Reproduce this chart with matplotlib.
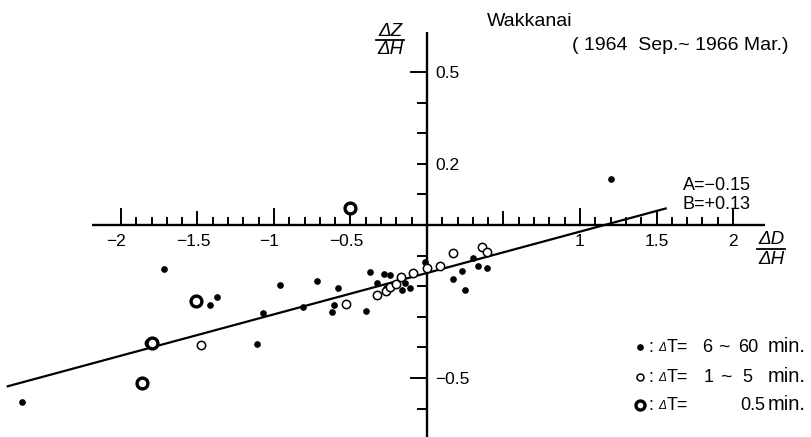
import matplotlib
matplotlib.use('Agg')
import matplotlib.pyplot as plt

plt.rcParams['font.family'] = ['Liberation Sans', 'DejaVu Sans']

# ---- data (x = dD/dH, y = dZ/dH) ----
filled_x = [-1.72, -1.37, -1.42, -0.96, -0.72, -1.07, -0.81, -1.11, -0.58, -0.61,
            -0.62, -0.40, -0.375, -2.65, -0.325, -0.28, -0.24, -0.165, -0.11, -0.145,
            -0.01, 0.17, 0.23, 0.25, 0.30, 0.335, 0.39, 1.20, -0.27]
filled_y = [-0.143, -0.236, -0.262, -0.195, -0.184, -0.288, -0.267, -0.389, -0.207, -0.262,
            -0.285, -0.281, -0.154, -0.579, -0.191, -0.161, -0.165, -0.212, -0.205, -0.188,
            -0.121, -0.177, -0.150, -0.212, -0.109, -0.133, -0.139, 0.149, -0.205]
open_x = [-1.48, -0.53, -0.33, -0.27, -0.24, -0.20, -0.17, -0.09, 0.00, 0.085,
          0.17, 0.36, 0.39, -1.82]
open_y = [-0.393, -0.259, -0.229, -0.216, -0.202, -0.194, -0.171, -0.158, -0.142, -0.133,
          -0.092, -0.071, -0.087, -0.386]
bold_x = [-1.51, -1.80, -1.86, -0.50]
bold_y = [-0.247, -0.385, -0.517, 0.055]
line_x = [-2.74, 1.56]
line_y = [-0.527, 0.054]

x_tick_labels = ['−2', '−1.5', '−1', '−0.5', '1', '1.5', '2']
x_tick_values = [-2, -1.5, -1, -0.5, 1, 1.5, 2]
y_tick_labels = ['0.5', '0.2', '−0.5']
y_tick_values = [0.5, 0.2, -0.5]

W, H = 812, 437
PX_X = 153.0   # pixels per x unit
PX_Y = 306.0   # pixels per y unit
ORX, ORY = 427.0, 225.0

fig = plt.figure(figsize=(W / 100, H / 100), dpi=100)
ax = fig.add_axes([0, 0, 1, 1])
X0, X1 = -ORX / PX_X, (W - ORX) / PX_X
Y0, Y1 = (ORY - H) / PX_Y, ORY / PX_Y
ax.set_xlim(X0, X1)
ax.set_ylim(Y0, Y1)
ax.axis('off')


def T(px, py, s, size=13, ha='left', **kw):
    ax.text(px / W, 1 - py / H, s, transform=ax.transAxes, ha=ha, va='center',
            fontsize=size, **kw)


k = 'black'
# axes lines
ax.plot([(92 - ORX) / PX_X, (765 - ORX) / PX_X], [0, 0], color=k, lw=1.7, solid_capstyle='butt')
ax.plot([0, 0], [Y0, (ORY - 32) / PX_Y], color=k, lw=1.7, solid_capstyle='butt')

# x ticks (upwards)
for i in range(-20, 21):
    if i == 0:
        continue
    L = 16 if i % 10 == 0 else (13 if i % 5 == 0 else 7)
    ax.plot([i / 10, i / 10], [0, L / PX_Y], color=k, lw=1.4)
# y ticks (to the left)
for i in range(-6, 6):
    if i == 0:
        continue
    L = 16 if i % 5 == 0 else 9
    ax.plot([-L / PX_X, 0], [i / 10, i / 10], color=k, lw=1.4)

fs = 12.5
for v, t in zip(x_tick_values, x_tick_labels):
    dx = -4.5 / PX_X if v < 0 else 0
    ax.text(v + dx, -16 / PX_Y, t, ha='center', va='center', fontsize=fs)
for v, t in zip(y_tick_values, y_tick_labels):
    ax.text(8 / PX_X, v - 2 / PX_Y, t, ha='left', va='center', fontsize=fs)

# regression line
ax.plot(line_x, line_y, color=k, lw=1.6, zorder=2)

# points
ax.plot(filled_x, filled_y, 'o', ms=3.8, color=k, zorder=3)
ax.plot(open_x, open_y, 'o', ms=6.0, mfc='white', mec=k, mew=1.1, zorder=4)
ax.plot(bold_x, bold_y, 'o', ms=7.8, mfc='white', mec=k, mew=2.4, zorder=5)


# axis labels as fractions
def frac(cx, cy, top, bot, half):
    T(cx, cy - 9, top, 13.5, ha='center', style='italic')
    T(cx, cy + 10, bot, 13.5, ha='center', style='italic')
    ax.plot([(cx - half) / W, (cx + half) / W], [1 - cy / H, 1 - cy / H],
            transform=ax.transAxes, color=k, lw=1.3)


frac(390, 40, 'ΔZ', 'ΔH', 14)
frac(771, 249, 'ΔD', 'ΔH', 14)

# title texts
T(487, 22, 'Wakkanai', 14)
T(572, 45, '( 1964  Sep.~ 1966 Mar.)', 14)

# coefficients
T(683, 185, 'A=−0.15', 13)
T(683, 204, 'B=+0.13', 13)

# legend
rows = [(347, dict(marker='o', ms=3.8, color=k, ls='none'),
         [('6', 707), ('~', 724), ('60', 748)]),
        (377, dict(marker='o', ms=5.0, mfc='white', mec=k, mew=1.1, ls='none'),
         [('1', 709), ('~', 726), ('5', 747)]),
        (405, dict(marker='o', ms=6.5, mfc='white', mec=k, mew=2.4, ls='none'),
         [('0.5', 753)])]
for ry, style, parts in rows:
    ax.plot([640 / W], [1 - ry / H], transform=ax.transAxes, **style)
    T(648, ry, ':', 13)
    T(658, ry + 1, 'Δ', 8.5, style='italic')
    T(667, ry, 'T=', 13)
    for s, cx in parts:
        T(cx, ry, s, 14 if s == '~' else 13, ha='center')
    T(806, ry, 'min.', 14.5, ha='right')

fig.savefig('out.png', dpi=100, facecolor='white')
